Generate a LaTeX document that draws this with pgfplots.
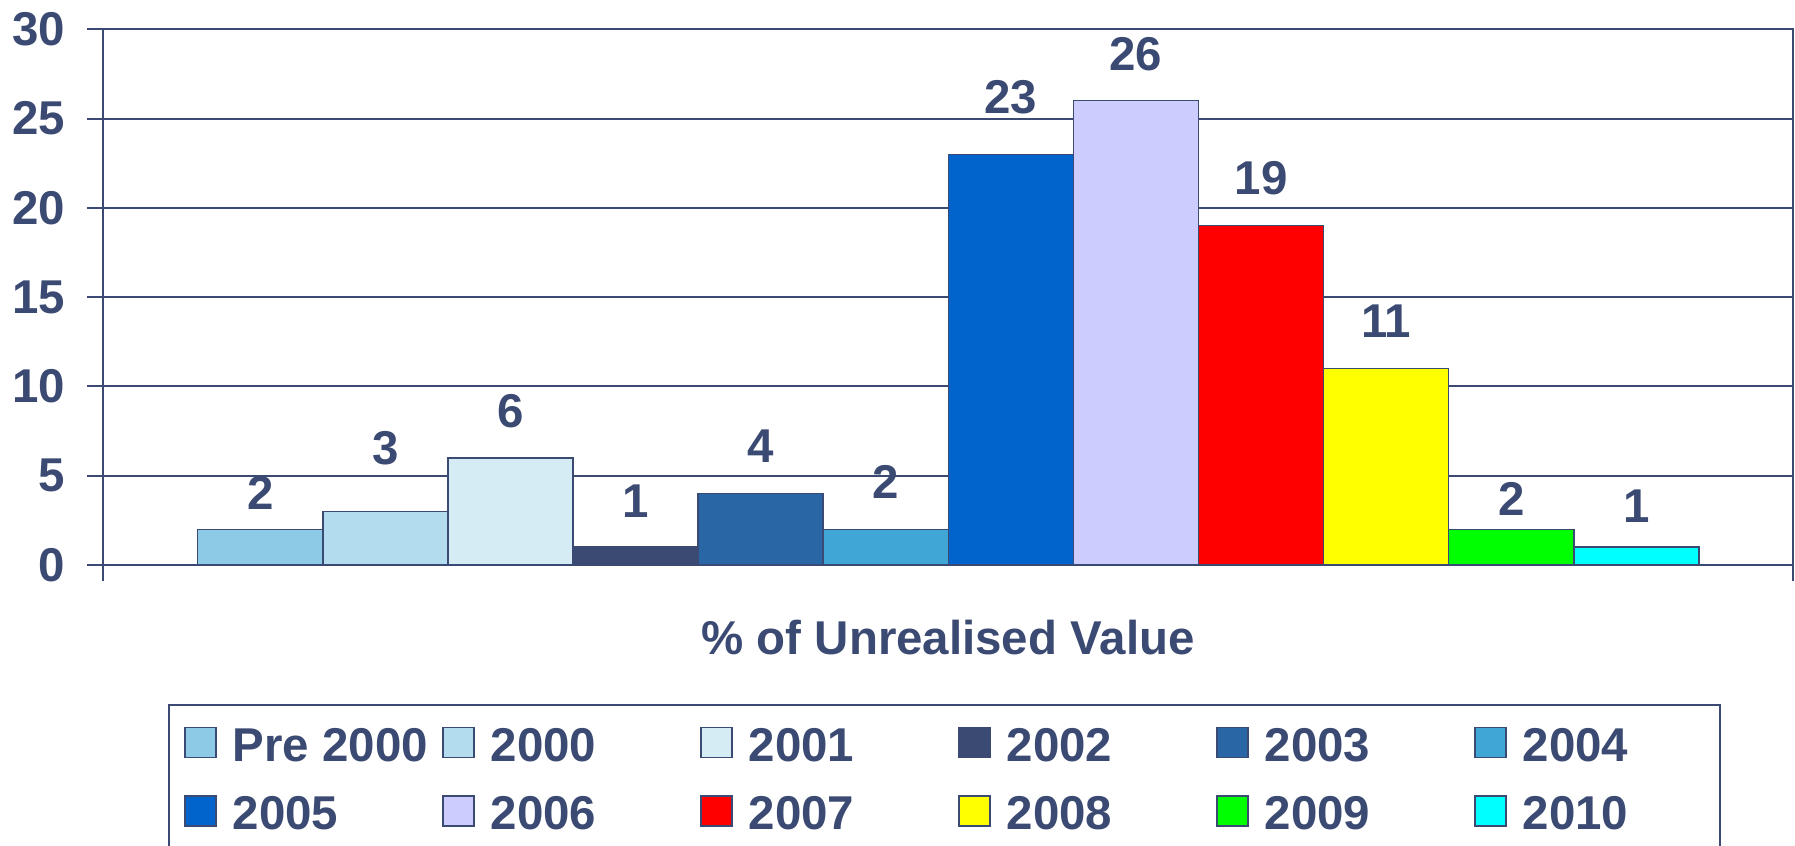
\documentclass[border=0pt]{standalone}
\usepackage{pgfplots}
\pgfplotsset{compat=1.18}
\usepackage{fontspec}
\setmainfont{Liberation Sans}

\definecolor{navy}{HTML}{3B4A72}
\definecolor{cPre}{HTML}{8DCAE6}
\definecolor{cA}{HTML}{B3DCEE}
\definecolor{cB}{HTML}{D6ECF5}
\definecolor{cC}{HTML}{3B4A72}
\definecolor{cD}{HTML}{2866A6}
\definecolor{cE}{HTML}{3FA6D6}
\definecolor{cF}{HTML}{0064CC}
\definecolor{cG}{HTML}{CCCCFF}
\definecolor{cH}{HTML}{FF0000}
\definecolor{cI}{HTML}{FFFF00}
\definecolor{cJ}{HTML}{00FF00}
\definecolor{cK}{HTML}{00FFFF}

\newcommand\lbl{\fontsize{13.5}{16}\selectfont\bfseries}
\newcommand\lw[1]{\makebox[20.95mm][l]{#1}}
\newcommand\lz[1]{\makebox[18.2mm][l]{#1}}

\pgfplotsset{
  mybar/.style={ybar, bar width=1, bar shift=0pt, fill=#1, draw=navy, line width=0.15mm,
    legend image code/.code={\draw[fill=#1, draw=navy, line width=0.15mm] (0mm,-1.06mm) rectangle (3.1mm,1.94mm);}},
  lab/.style={nodes near coords, nodes near coords style={anchor=base, yshift=#1mm}},
}

\begin{document}
\begin{tikzpicture}
\useasboundingbox (0,0) rectangle (179.5mm,-84.6mm);
\begin{axis}[
  at={(10.33mm,-2.93mm)}, anchor=north west,
  width=168.94mm, height=53.57mm, scale only axis, clip=false,
  xmin=-1.255, xmax=12.25, ymin=0, ymax=30,
  ytick={0,5,...,30}, xtick={-1.255,12.25}, xticklabels={},
  ymajorgrids, major grid style={navy, line width=0.2mm},
  axis line style={navy, line width=0.2mm},
  tick style={navy, line width=0.2mm}, tick align=outside, major tick length=1.6mm,
  xtick pos=bottom, ytick pos=left,
  yticklabel style={font=\lbl, text=navy, xshift=-1mm},
  /pgf/number format/assume math mode=true,
  every node near coord/.append style={font=\lbl, text=navy, inner sep=0pt},
  xlabel={\% of Unrealised Value},
  xlabel style={at={(axis description cs:0.5,-0.168)}, anchor=base, font=\lbl, text=navy},
  legend columns=6,
  legend style={at={(axis description cs:0.0381,-0.260)}, anchor=north west,
    draw=navy, line width=0.2mm, inner xsep=1.56mm, inner ysep=2.17mm,
    font=\lbl, text=navy, nodes={inner sep=0pt}, row sep=2.9mm,
    /tikz/every odd column/.style={column sep=1.6mm},
    /tikz/every even column/.style={column sep=0pt}},
]
\addplot[mybar=cPre, lab=2.0] coordinates {(0,2)};
\addlegendentry{\lw{Pre 2000}}
\addplot[mybar=cA, lab=4.7] coordinates {(1,3)};
\addlegendentry{\lw{2000}}
\addplot[mybar=cB, lab=3.0] coordinates {(2,6)};
\addlegendentry{\lw{2001}}
\addplot[mybar=cC, lab=3.0] coordinates {(3,1)};
\addlegendentry{\lw{2002}}
\addplot[mybar=cD, lab=3.1] coordinates {(4,4)};
\addlegendentry{\lw{2003}}
\addplot[mybar=cE, lab=3.1] coordinates {(5,2)};
\addlegendentry{\lz{2004}}
\addplot[mybar=cF, lab=4.1] coordinates {(6,23)};
\addlegendentry{\lw{2005}}
\addplot[mybar=cG, lab=3.0] coordinates {(7,26)};
\addlegendentry{\lw{2006}}
\addplot[mybar=cH, lab=3.1] coordinates {(8,19)};
\addlegendentry{\lw{2007}}
\addplot[mybar=cI, lab=3.1] coordinates {(9,11)};
\addlegendentry{\lw{2008}}
\addplot[mybar=cJ, lab=1.4] coordinates {(10,2)};
\addlegendentry{\lw{2009}}
\addplot[mybar=cK, lab=2.5] coordinates {(11,1)};
\addlegendentry{\lz{2010}}
\end{axis}
\end{tikzpicture}
\end{document}
